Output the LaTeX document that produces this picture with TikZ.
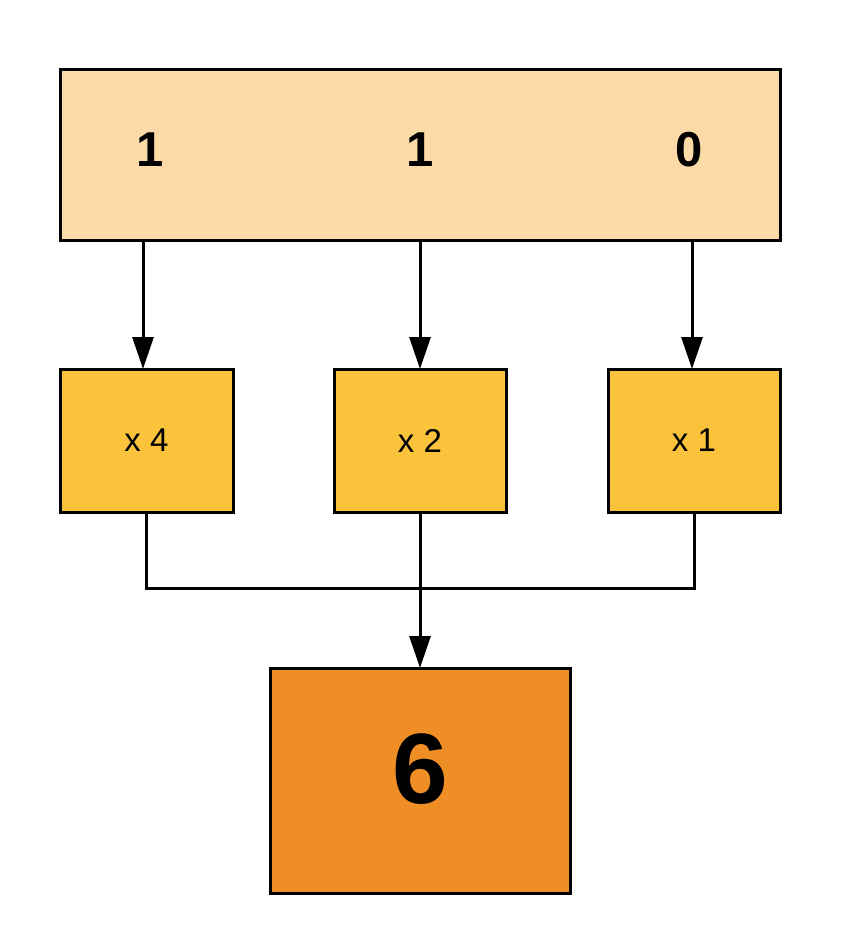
\documentclass[tikz,border=0pt]{standalone}
\usepackage{fontspec}
\setmainfont{Liberation Sans}
\usetikzlibrary{arrows.meta}
\definecolor{peach}{HTML}{FCDAA8}
\definecolor{amber}{HTML}{FBC33B}
\definecolor{tangerine}{HTML}{EF8E24}
\begin{document}
\begin{tikzpicture}[x=1pt, y=-1pt, line width=3pt,
    every node/.style={rectangle, draw, outer sep=0pt, inner sep=0pt},
    >={Triangle[width=21pt, length=32pt]}]
    \useasboundingbox (0,0) rectangle (842,947);

    % --- input bits ---
    \node[fill=peach, minimum width=720, minimum height=170] (bits) at (420,155) {};
    \node[draw=none, font=\bfseries\fontsize{49}{50}\selectfont] (b2) at (150,150) {1};
    \node[draw=none, font=\bfseries\fontsize{49}{50}\selectfont] (b1) at (420,150) {1};
    \node[draw=none, font=\bfseries\fontsize{49}{50}\selectfont] (b0) at (689,150) {0};

    % --- weights ---
    \node[fill=amber, minimum width=173, minimum height=143, font=\fontsize{33}{34}\selectfont] (w4) at (146.5,440.5) {x 4};
    \node[fill=amber, minimum width=172, minimum height=143, font=\fontsize{33}{34}\selectfont] (w2) at (420,440.5) {x 2};
    \node[fill=amber, minimum width=172, minimum height=143, font=\fontsize{33}{34}\selectfont] (w1) at (694,440.5) {x 1};
    \draw[->] (bits.south -| 143,0) -- (w4.north -| 143,0);
    \draw[->] (bits.south -| w2.north) -- (w2.north);
    \draw[->] (bits.south -| 692,0) -- (w1.north -| 692,0);

    % --- sum ---
    \node[fill=tangerine, minimum width=300, minimum height=225] (sum) at (420,780.5) {};
    \node[draw=none, font=\bfseries\fontsize{100}{100}\selectfont] (total) at (420,769) {6};
    \coordinate (join) at (420,588);
    \draw (w4.south) |- (join) -| (w1.south);
    \draw[->] (w2.south) -- (sum.north);
\end{tikzpicture}
\end{document}
